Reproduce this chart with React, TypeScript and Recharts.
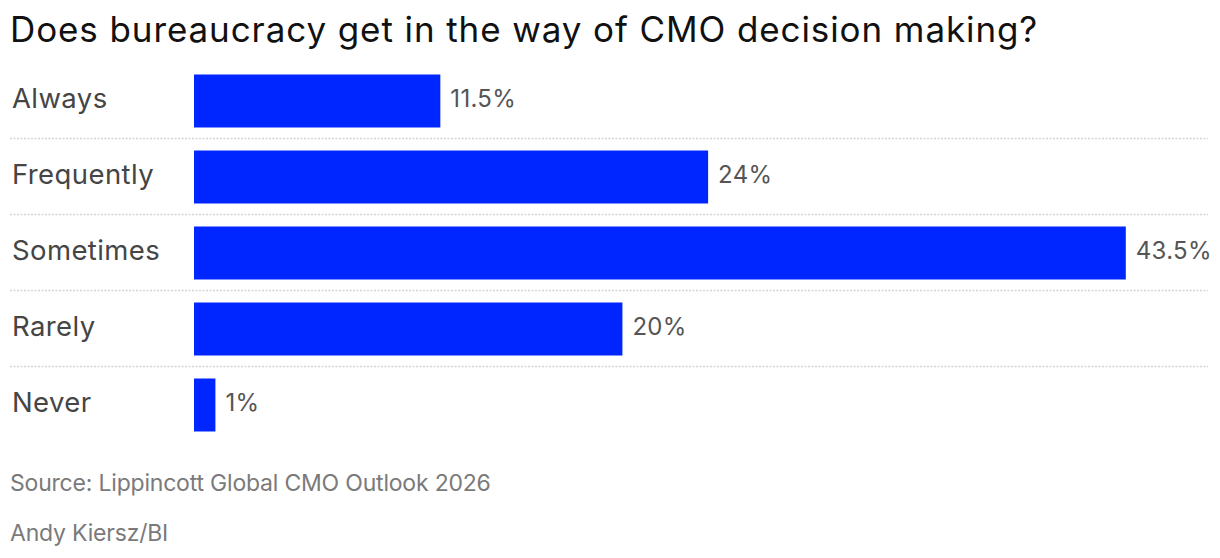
import { BarChart, Bar, XAxis, YAxis, LabelList } from 'recharts'

const categories = ['Always', 'Frequently', 'Sometimes', 'Rarely', 'Never']
const shares = [11.5, 24, 43.5, 20, 1]
const valueLabels = ['11.5%', '24%', '43.5%', '20%', '1%']

const data = categories.map((name, i) => ({ name, value: shares[i], label: valueLabels[i] }))

const FONT = "Inter, 'Noto Sans', sans-serif"
const BLUE = '#0026ff'

interface TickProps {
  x?: number
  y?: number
  index?: number
  payload?: { value: string; offset?: number }
}

function CategoryTick({ y, index, payload }: TickProps) {
  if (y === undefined || !payload) return null
  const half = payload.offset ?? 0
  const isLast = index === categories.length - 1
  return (
    <g>
      <text
        x={12}
        y={y}
        dy={7.5}
        textAnchor="start"
        fill="#454545"
        fontSize={27.5}
        fontFamily={FONT}
        style={{ letterSpacing: '0.4px' }}
      >
        {payload.value}
      </text>
      {!isLast && (
        <line
          x1={10}
          x2={1208}
          y1={y + half}
          y2={y + half}
          stroke="#d4d4d4"
          strokeWidth={1.5}
          strokeDasharray="2 1.5"
        />
      )}
    </g>
  )
}

const footStyle = {
  position: 'absolute' as const, left: 10,
  fontSize: 23, lineHeight: 1, color: '#7a7a7a', letterSpacing: '-0.2px', whiteSpace: 'nowrap' as const,
}

export default function App() {
  return (
    <div style={{ position: 'absolute', left: 0, top: 0, width: 1220, height: 558, background: '#fff', fontFamily: FONT }}>
      <div style={{
        position: 'absolute', left: 10, top: 12,
        fontSize: 35, lineHeight: 1, color: '#111', letterSpacing: '0.9px', whiteSpace: 'nowrap',
      }}>
        Does bureaucracy get in the way of CMO decision making?
      </div>
      <div style={{ position: 'absolute', left: 0, top: 0 }}>
        <BarChart
          width={1220}
          height={558}
          data={data}
          layout="vertical"
          margin={{ top: 62.5, right: 8.5, bottom: 115.5, left: 0 }}
        >
          <XAxis type="number" domain={[0, 47.5]} hide />
          <YAxis
            type="category"
            dataKey="name"
            width={194}
            axisLine={false}
            tickLine={false}
            tick={<CategoryTick />}
            interval={0}
          />
          <Bar dataKey="value" fill={BLUE} barSize={53} isAnimationActive={false}>
            <LabelList
              dataKey="label"
              position="right"
              offset={10}
              dy={-3}
              fill="#555"
              fontSize={24}
              fontFamily={FONT}
              style={{ letterSpacing: '0.3px' }}
            />
          </Bar>
        </BarChart>
      </div>
      <div style={{ ...footStyle, top: 472 }}>
        Source: Lippincott Global CMO Outlook 2026
      </div>
      <div style={{ ...footStyle, top: 522 }}>
        Andy Kiersz/BI
      </div>
    </div>
  )
}
